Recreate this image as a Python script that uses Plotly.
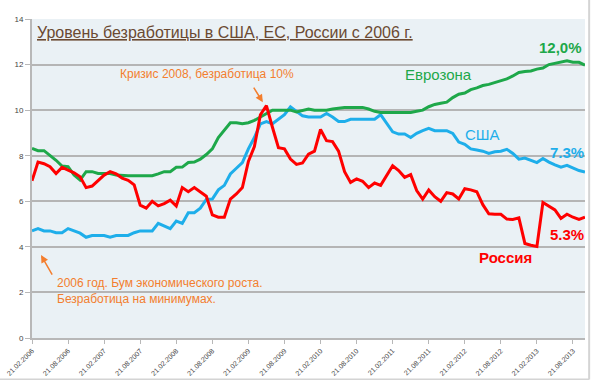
import plotly.graph_objects as go

months = list(range(93))
tick_pos = list(range(0, 91, 6))
tick_labels = ["21.02.2006", "21.08.2006", "21.02.2007", "21.08.2007", "21.02.2008",
               "21.08.2008", "21.02.2009", "21.08.2009", "21.02.2010", "21.08.2010",
               "21.02.2011", "21.08.2011", "21.02.2012", "21.08.2012", "21.02.2013",
               "21.08.2013"]

eurozone = [8.32, 8.22, 8.22, 8.03, 7.8, 7.55, 7.52, 7.15, 6.93, 7.3,
            7.3, 7.22, 7.22, 7.22, 7.15, 7.12, 7.12, 7.12, 7.12, 7.12,
            7.12, 7.2, 7.3, 7.3, 7.49, 7.5, 7.7, 7.72, 7.85, 8.05,
            8.3, 8.8, 9.1, 9.45, 9.45, 9.4, 9.45, 9.55, 9.7, 9.85,
            10.0, 10.0, 10.0, 10.0, 9.92, 10.0, 10.05, 10.0, 10.0, 10.0,
            10.05, 10.1, 10.12, 10.12, 10.12, 10.12, 10.05, 9.95, 9.9, 9.9,
            9.9, 9.9, 9.9, 9.9, 9.95, 10.0, 10.15, 10.25, 10.3, 10.35,
            10.55, 10.7, 10.75, 10.9, 10.98, 11.08, 11.13, 11.2, 11.28, 11.37,
            11.5, 11.65, 11.7, 11.72, 11.8, 11.85, 12.0, 12.05, 12.1, 12.17,
            12.1, 12.1, 11.97]

usa = [4.7, 4.8, 4.7, 4.7, 4.62, 4.62, 4.8, 4.7, 4.6, 4.42,
       4.5, 4.5, 4.5, 4.42, 4.5, 4.5, 4.5, 4.62, 4.7, 4.7,
       4.7, 5.03, 4.9, 4.8, 5.13, 5.03, 5.5, 5.5, 5.7, 6.08,
       6.1, 6.5, 6.7, 7.2, 7.45, 7.7, 8.3, 8.8, 9.4, 9.5,
       9.4, 9.6, 9.8, 10.15, 9.95, 9.75, 9.7, 9.7, 9.7, 9.85,
       9.7, 9.5, 9.5, 9.6, 9.6, 9.6, 9.6, 9.6, 9.8, 9.4,
       9.05, 8.95, 8.95, 8.8, 8.98, 9.1, 9.2, 9.1, 9.1, 9.1,
       8.98, 8.6, 8.5, 8.3, 8.25, 8.2, 8.1, 8.17, 8.2, 8.28,
       8.1, 7.85, 7.9, 7.8, 7.7, 7.88, 7.72, 7.6, 7.5, 7.58,
       7.45, 7.35, 7.28]

russia = [6.9, 7.72, 7.65, 7.52, 7.22, 7.49, 7.37, 7.25, 7.08, 6.6,
          6.67, 6.9, 7.15, 7.3, 7.2, 7.02, 6.92, 6.72, 5.83, 5.7,
          6.0, 5.8, 5.9, 6.05, 5.79, 6.6, 6.42, 6.6, 6.42, 6.22,
          5.4, 5.3, 5.3, 6.1, 6.32, 6.6, 7.75, 8.4, 9.8, 10.2,
          9.25, 8.35, 8.3, 7.85, 7.62, 7.68, 8.07, 8.2, 9.15, 8.66,
          8.62, 8.2, 7.3, 6.83, 6.98, 6.88, 6.6, 6.8, 6.7, 7.12,
          7.56, 7.35, 7.05, 7.17, 6.47, 6.1, 6.5, 6.2, 6.0, 6.38,
          6.32, 6.1, 6.55, 6.5, 6.42, 5.85, 5.45, 5.43, 5.43, 5.22,
          5.2, 5.27, 4.15, 4.07, 4.02, 5.95, 5.77, 5.62, 5.25, 5.43,
          5.3, 5.2, 5.3]

GREEN = "#1ea84a"
BLUE = "#1eaeea"
RED = "#ff0000"
ORANGE = "#f37e2e"
FONT = "Arial, 'Liberation Sans', sans-serif"

fig = go.Figure()
fig.add_trace(go.Scatter(x=months, y=usa, mode="lines", name="США",
                         line=dict(color=BLUE, width=3)))
fig.add_trace(go.Scatter(x=months, y=eurozone, mode="lines", name="Еврозона",
                         line=dict(color=GREEN, width=3)))
fig.add_trace(go.Scatter(x=months, y=russia, mode="lines", name="Россия",
                         line=dict(color=RED, width=3)))

ann = []
ann.append(dict(x=0.5, y=13.42, xanchor="left", yanchor="middle",
                text="<u>Уровень безработицы в США, ЕС, России с 2006 г.</u>",
                showarrow=False, font=dict(family=FONT, size=16, color="#6b4a32")))
ann.append(dict(x=61.8, y=11.55, xanchor="left", yanchor="middle", text="Еврозона",
                showarrow=False, font=dict(family=FONT, size=15, color=GREEN)))
ann.append(dict(x=88, y=12.75, xanchor="center", yanchor="middle", text="<b>12,0%</b>",
                showarrow=False, font=dict(family=FONT, size=15, color=GREEN)))
ann.append(dict(x=75, y=8.95, xanchor="center", yanchor="middle", text="США",
                showarrow=False, font=dict(family=FONT, size=15, color=BLUE)))
ann.append(dict(x=89, y=8.16, xanchor="center", yanchor="middle", text="<b>7.3%</b>",
                showarrow=False, font=dict(family=FONT, size=15, color=BLUE)))
ann.append(dict(x=89, y=4.56, xanchor="center", yanchor="middle", text="<b>5.3%</b>",
                showarrow=False, font=dict(family=FONT, size=15, color=RED)))
ann.append(dict(x=78.7, y=3.55, xanchor="center", yanchor="middle", text="<b>Россия</b>",
                showarrow=False, font=dict(family=FONT, size=15, color=RED)))
ann.append(dict(x=14.3, y=11.58, xanchor="left", yanchor="middle",
                text="Кризис 2008, безработица 10%",
                showarrow=False, font=dict(family=FONT, size=12, color=ORANGE)))
ann.append(dict(x=3.9, y=2.05, xanchor="left", yanchor="middle", align="left",
                text="2006 год. Бум экономического роста.<br>Безработица на минимумах.",
                showarrow=False, font=dict(family=FONT, size=12, color=ORANGE)))
ann.append(dict(x=38.4, y=10.35, ax=-10, ay=-16, text="", showarrow=True,
                arrowhead=2, arrowsize=1, arrowwidth=1.5, arrowcolor=ORANGE))
ann.append(dict(x=1.5, y=3.64, ax=12, ay=21, text="", showarrow=True,
                arrowhead=2, arrowsize=1, arrowwidth=1.5, arrowcolor=ORANGE))
for a in ann:
    a.setdefault("xref", "x")
    a.setdefault("yref", "y")

fig.update_layout(
    width=600, height=380,
    margin=dict(l=32, r=15, t=19, b=42, autoexpand=False),
    paper_bgcolor="white",
    plot_bgcolor="#eaf1f5",
    showlegend=False,
    annotations=ann,
    font=dict(family=FONT),
    shapes=[
        dict(type="line", xref="paper", yref="paper", x0=1.0075, x1=1.0075, y0=-0.13, y1=1.06,
             line=dict(color="#d4d4d4", width=2)),
        dict(type="line", xref="paper", yref="paper", x0=-0.06, x1=1.0075, y0=-0.13, y1=-0.13,
             line=dict(color="#d4d4d4", width=2)),
    ],
)
fig.update_xaxes(range=[0, 92], tickmode="array", tickvals=tick_pos, ticktext=tick_labels,
                 tickangle=-45, tickfont=dict(size=7, color="#444444"), automargin=False,
                 showgrid=False, zeroline=False, showline=True, linecolor="#b8b8b8",
                 linewidth=2, ticks="outside", ticklen=4, tickcolor="#b8b8b8")
fig.update_yaxes(range=[0, 14], tickmode="array", tickvals=list(range(0, 15, 2)),
                 tickfont=dict(size=8, color="#444444"), automargin=False,
                 showgrid=True, gridcolor="#b5b5b5", gridwidth=1.5, zeroline=False,
                 showline=True, linecolor="#b8b8b8", linewidth=2,
                 ticks="outside", ticklen=5, tickcolor="#b8b8b8")

fig.write_html("out.html", config={"displayModeBar": False},
               post_script="document.body.style.margin='0px';")
